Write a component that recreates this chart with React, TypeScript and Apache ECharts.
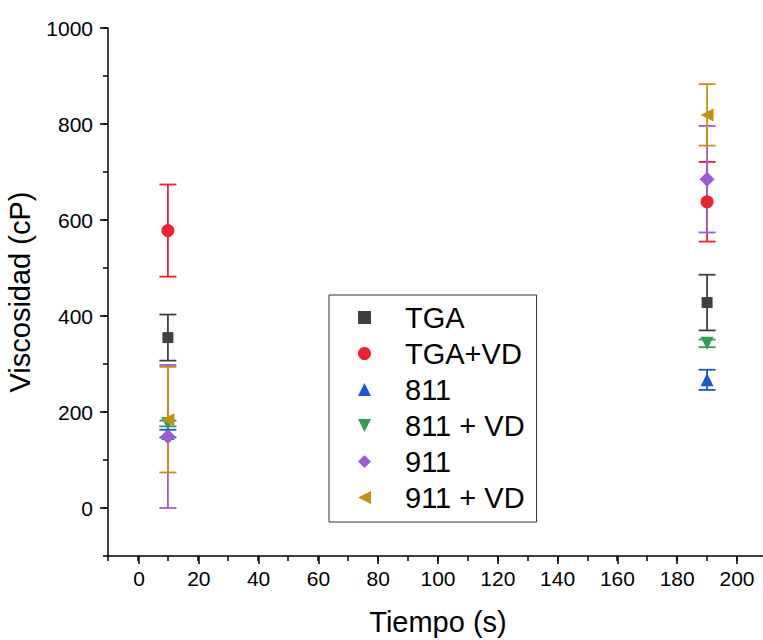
import React, { useEffect, useRef } from "react";
import * as echarts from "echarts";

const times = [10, 190];
const seriesNames = ["TGA", "TGA+VD", "811", "811 + VD", "911", "911 + VD"];
const tgaValues = [355, 428];
const tgaErrors = [48, 58];
const tgaVdValues = [578, 638];
const tgaVdErrors = [96, 83];
const s811Values = [155, 267];
const s811Errors = [8, 21];
const s811VdValues = [176, 343];
const s811VdErrors = [6, 8];
const s911Values = [149, 685];
const s911Errors = [149, 111];
const s911VdValues = [184, 819];
const s911VdErrors = [110, 64];

const colors = ["#404040", "#ec2231", "#1a56db", "#2e9e58", "#9d5bd6", "#c8900e"];
const symbols = [
  "rect",
  "circle",
  "triangle",
  "path://M0,0 L10,0 L5,10 Z",
  "diamond",
  "path://M10,0 L10,10 L0,5 Z",
];
const symbolSizes = [11, 13, 13, 13, 15, 13];

const FONT = 'Arial, "Liberation Sans", sans-serif';

export default function App() {
  const ref = useRef<HTMLDivElement>(null);
  useEffect(() => {
    if (!ref.current) return;
    const chart = echarts.init(ref.current, undefined, { renderer: "svg" });
    const values = [tgaValues, tgaVdValues, s811Values, s811VdValues, s911Values, s911VdValues];
    const errors = [tgaErrors, tgaVdErrors, s811Errors, s811VdErrors, s911Errors, s911VdErrors];
    const series: any[] = [];
    seriesNames.forEach((name, i) => {
      const color = colors[i];
      series.push({
        type: "custom",
        name: name + " err",
        xAxisIndex: 0,
        yAxisIndex: 0,
        data: times.map((t, k) => [t, values[i][k] - errors[i][k], values[i][k] + errors[i][k]]),
        renderItem: (params: any, api: any) => {
          const x = api.value(0);
          const lo = api.coord([x, api.value(1)]);
          const hi = api.coord([x, api.value(2)]);
          const hw = 8.5;
          const style = { stroke: color, lineWidth: 1.8 };
          return {
            type: "group",
            children: [
              { type: "line", shape: { x1: lo[0], y1: lo[1], x2: hi[0], y2: hi[1] }, style },
              { type: "line", shape: { x1: lo[0] - hw, y1: lo[1], x2: lo[0] + hw, y2: lo[1] }, style },
              { type: "line", shape: { x1: hi[0] - hw, y1: hi[1], x2: hi[0] + hw, y2: hi[1] }, style },
            ],
          };
        },
        silent: true,
      });
      series.push({
        type: "scatter",
        name,
        xAxisIndex: 0,
        yAxisIndex: 0,
        symbol: symbols[i],
        symbolSize: symbolSizes[i],
        itemStyle: { color, opacity: 1 },
        data: times.map((t, k) => [t, values[i][k]]),
      });
    });

    const axisLineStyle = { color: "#000", width: 1.5 };
    chart.setOption({
      animation: false,
      backgroundColor: "#fff",
      textStyle: { fontFamily: FONT },
      grid: [
        { left: 108, top: 28, width: 659, height: 528, outerBoundsMode: "none", containLabel: false },
        { left: 108, top: 28, width: 659, height: 480, outerBoundsMode: "none", containLabel: false },
        { left: 139, top: 28, width: 598, height: 528, outerBoundsMode: "none", containLabel: false },
      ],
      xAxis: [
        {
          gridIndex: 0,
          type: "value",
          min: -10,
          max: 210,
          interval: 10,
          axisLine: { show: true, onZero: false, lineStyle: axisLineStyle },
          axisTick: { show: true, length: 5, lineStyle: axisLineStyle },
          axisLabel: { show: false },
          splitLine: { show: false },
        },
        { gridIndex: 1, type: "value", min: 0, max: 200, show: false },
        {
          gridIndex: 2,
          type: "value",
          min: 0,
          max: 200,
          interval: 20,
          axisLine: { show: false, onZero: false },
          axisTick: { show: true, length: 8, lineStyle: axisLineStyle },
          axisLabel: { show: true, fontSize: 21, color: "#000", margin: 12, fontFamily: FONT },
          splitLine: { show: false },
          name: "Tiempo (s)",
          nameLocation: "middle",
          nameGap: 51,
          nameTextStyle: { fontSize: 29, color: "#000", fontFamily: FONT },
        },
      ],
      yAxis: [
        {
          gridIndex: 0,
          type: "value",
          min: -100,
          max: 1000,
          interval: 100,
          axisLine: { show: true, onZero: false, lineStyle: axisLineStyle },
          axisTick: { show: true, length: 5, lineStyle: axisLineStyle },
          axisLabel: { show: false },
          splitLine: { show: false },
          name: "Viscosidad (cP)",
          nameLocation: "middle",
          nameGap: 74,
          nameTextStyle: { fontSize: 29, color: "#000", fontFamily: FONT },
        },
        {
          gridIndex: 1,
          type: "value",
          min: 0,
          max: 1000,
          interval: 200,
          axisLine: { show: false, onZero: false },
          axisTick: { show: true, length: 8, lineStyle: axisLineStyle },
          axisLabel: {
            show: true,
            fontSize: 21,
            color: "#000",
            margin: 15,
            fontFamily: FONT,
            formatter: (v: number) => String(v),
          },
          splitLine: { show: false },
        },
        { gridIndex: 2, type: "value", min: 0, max: 1000, show: false },
      ],
      legend: {
        show: true,
        orient: "vertical",
        left: 329,
        top: 295,
        padding: [8, 12, 10, 29],
        itemWidth: 13,
        itemHeight: 13,
        itemGap: 7,
        borderColor: "#333",
        borderWidth: 1,
        data: seriesNames,
        textStyle: {
          fontSize: 29,
          lineHeight: 28,
          color: "#000",
          fontFamily: FONT,
          padding: [0, 0, 0, 29],
        },
      },
      series,
    });
    return () => chart.dispose();
  }, []);
  return (
    <div
      ref={ref}
      style={{ position: "fixed", left: 0, top: 0, width: 763, height: 640 }}
    />
  );
}
